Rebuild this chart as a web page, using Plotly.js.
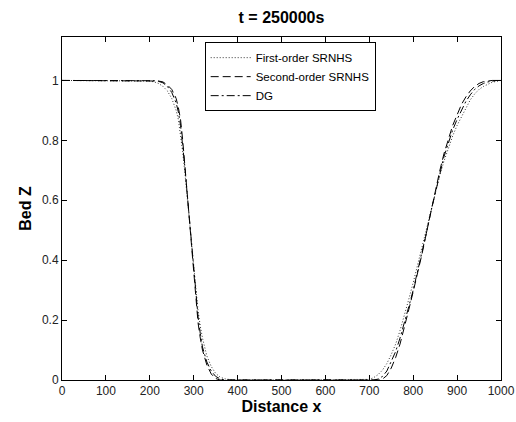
<!DOCTYPE html>
<html>
<head>
<meta charset="utf-8">
<script src="https://cdn.plot.ly/plotly-3.0.1.min.js"></script>
<style>html,body{margin:0;padding:0;background:#fff;}#chart{width:516px;height:422px;}</style>
</head>
<body>
<div id="chart"></div>
<script>
// Distance x samples
const xs = [0, 100, 180, 200, 210, 220, 230, 240, 250, 260, 265, 270, 275, 280, 285, 290, 295, 300, 305, 310, 315, 320, 330, 340, 350, 360, 370, 380, 390, 400, 500, 600, 700, 710, 720, 730, 740, 750, 760, 770, 780, 790, 800, 810, 820, 830, 840, 850, 860, 870, 880, 890, 900, 910, 920, 930, 940, 950, 960, 970, 980, 990, 1000];

// First-order SRNHS (dotted)
const firstOrder = [1, 1, 1, 0.998, 0.995, 0.99, 0.98, 0.965, 0.94, 0.9, 0.87, 0.82, 0.76, 0.69, 0.61, 0.53, 0.45, 0.38, 0.3, 0.23, 0.18, 0.14, 0.08, 0.045, 0.022, 0.01, 0.004, 0.001, 0, 0, 0, 0, 0.002, 0.008, 0.018, 0.033, 0.055, 0.085, 0.12, 0.165, 0.215, 0.27, 0.325, 0.385, 0.445, 0.505, 0.565, 0.625, 0.68, 0.73, 0.775, 0.815, 0.85, 0.88, 0.91, 0.935, 0.955, 0.97, 0.98, 0.988, 0.994, 0.997, 1];

// Second-order SRNHS (dashed)
const secondOrder = [1, 1, 1, 1, 1, 0.998, 0.995, 0.985, 0.97, 0.94, 0.91, 0.87, 0.8, 0.72, 0.63, 0.54, 0.45, 0.36, 0.27, 0.19, 0.14, 0.1, 0.05, 0.02, 0.005, 0, 0, 0, 0, 0, 0, 0, 0, 0, 0, 0.003, 0.015, 0.04, 0.075, 0.12, 0.175, 0.235, 0.295, 0.355, 0.42, 0.49, 0.56, 0.63, 0.695, 0.755, 0.805, 0.85, 0.885, 0.92, 0.945, 0.965, 0.98, 0.99, 0.996, 0.999, 1, 1, 1];

// DG (dash-dot)
const dg = [1, 1, 1, 1, 0.999, 0.997, 0.992, 0.98, 0.96, 0.925, 0.895, 0.85, 0.785, 0.71, 0.625, 0.54, 0.455, 0.37, 0.285, 0.21, 0.155, 0.11, 0.06, 0.03, 0.012, 0.004, 0, 0, 0, 0, 0, 0, 0, 0, 0.003, 0.012, 0.03, 0.06, 0.095, 0.14, 0.19, 0.245, 0.3, 0.36, 0.42, 0.49, 0.56, 0.625, 0.69, 0.745, 0.79, 0.835, 0.87, 0.9, 0.93, 0.952, 0.97, 0.982, 0.99, 0.995, 0.998, 1, 1];

const names = ["First-order SRNHS", "Second-order SRNHS", "DG"];
const yTickVals = [0, 0.2, 0.4, 0.6, 0.8, 1];
const yTickText = ["0", "0.2", "0.4", "0.6", "0.8", "1"];
const xTickVals = [0, 100, 200, 300, 400, 500, 600, 700, 800, 900, 1000];

const FONT = "Liberation Sans, Arial, Helvetica, sans-serif";

const traces = [
  {x: xs, y: firstOrder, name: names[0], mode: "lines", line: {color: "#333", width: 1, dash: "1px,2px"}},
  {x: xs, y: secondOrder, name: names[1], mode: "lines", line: {color: "#000", width: 1, dash: "8px,4px"}},
  {x: xs, y: dg, name: names[2], mode: "lines", line: {color: "#000", width: 1, dash: "8px,3px,2px,3px"}}
];

const axisCommon = {
  showgrid: false, zeroline: false, showline: true, linecolor: "#000", linewidth: 1,
  mirror: "ticks", ticks: "inside", ticklen: 5, tickcolor: "#000", tickwidth: 1,
  tickfont: {family: FONT, size: 12, color: "#222"}
};

const layout = {
  width: 516, height: 422,
  margin: {l: 62, r: 15, t: 37, b: 42},
  paper_bgcolor: "#fff", plot_bgcolor: "#fff",
  font: {family: FONT, color: "#000"},
  title: {text: "<b>t = 250000s</b>", font: {family: FONT, size: 16, color: "#000"}, x: 0.5, xref: "paper", xanchor: "center", y: 1 - 17/422, yref: "container", yanchor: "middle"},
  xaxis: Object.assign({}, axisCommon, {
    range: [0, 1000], tickvals: xTickVals, ticktext: xTickVals.map(String),
    title: {text: "<b>Distance x</b>", font: {family: FONT, size: 16, color: "#000"}, standoff: 3}
  }),
  yaxis: Object.assign({}, axisCommon, {
    range: [0, 1.145], tickvals: yTickVals, ticktext: yTickText,
    title: {text: "<b>Bed Z</b>", font: {family: FONT, size: 16, color: "#000"}, standoff: 6}
  }),
  showlegend: true,
  legend: {
    x: 0.325, y: 0.985, xanchor: "left", yanchor: "top",
    bgcolor: "#fff", bordercolor: "#000", borderwidth: 1,
    font: {family: FONT, size: 11.5, color: "#000"},
    tracegroupgap: 0, itemwidth: 40
  }
};

Plotly.newPlot("chart", traces, layout, {displayModeBar: false, staticPlot: true});
</script>
</body>
</html>
